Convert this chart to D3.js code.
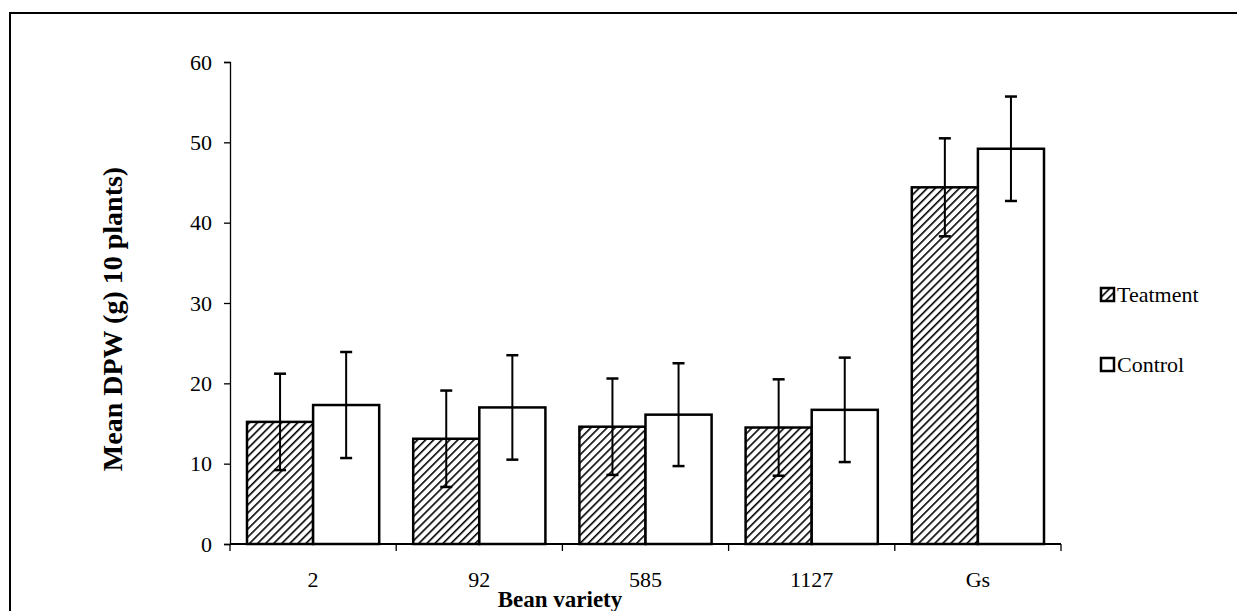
<!DOCTYPE html>
<html>
<head>
<meta charset="utf-8">
<script src="https://cdn.jsdelivr.net/npm/d3@7"></script>
<style>
  body { margin: 0; background: #fff; }
  svg text { font-family: "Liberation Serif", "Times New Roman", serif; fill: #000; }
</style>
</head>
<body>
<svg id="viz_area" width="1237" height="611"></svg>
<script>
// data
const varieties = ["2", "92", "585", "1127", "Gs"];
const series = ["Teatment", "Control"];
const treatment = [15.2, 13.1, 14.6, 14.5, 44.4];
const control = [17.3, 17.0, 16.1, 16.7, 49.2];
const treatmentErr = [6.0, 6.0, 6.0, 6.0, 6.1];
const controlErr = [6.6, 6.5, 6.4, 6.5, 6.5];
const yTicks = [0, 10, 20, 30, 40, 50, 60];

const svg = d3.select("#viz_area");

// hatch pattern for treatment bars
const defs = svg.append("defs");
defs.append("pattern")
    .attr("id", "hatch")
    .attr("patternUnits", "userSpaceOnUse")
    .attr("width", 5.7)
    .attr("height", 10)
    .attr("patternTransform", "rotate(45)")
  .append("line")
    .attr("x1", 0).attr("y1", 0)
    .attr("x2", 0).attr("y2", 10)
    .attr("stroke", "#000")
    .attr("stroke-width", 3.2);

// outer frame
svg.append("rect")
    .attr("x", 10).attr("y", 13)
    .attr("width", 1240).attr("height", 620)
    .attr("fill", "none")
    .attr("stroke", "#000")
    .attr("stroke-width", 2);

const margin = {top: 62, left: 230},
      width = 831,
      height = 482;

const g = svg.append("g")
    .attr("transform", "translate(" + margin.left + "," + margin.top + ")");

const x = d3.scaleBand()
    .domain(varieties)
    .range([0, width])
    .paddingInner(0)
    .paddingOuter(0);

const inner = d3.scaleBand()
    .domain(series)
    .range([17, x.bandwidth() - 17]);

const y = d3.scaleLinear()
    .domain([0, 60])
    .range([height, 0]);

// y axis
const yAxis = g.append("g")
    .call(d3.axisLeft(y).tickValues(yTicks).tickSize(6).tickPadding(12));
yAxis.select(".domain").attr("stroke-width", 1.3);
yAxis.selectAll(".tick line").attr("stroke-width", 1.3);
yAxis.selectAll("text")
    .style("font-size", "22px")
    .style("font-family", "Liberation Serif");

// x axis: ticks at band boundaries
const xAxis = g.append("g")
    .attr("transform", "translate(0," + height + ")");
xAxis.append("line")
    .attr("x1", 0).attr("x2", width)
    .attr("stroke", "#000").attr("stroke-width", 2);
xAxis.selectAll(".bound")
    .data(varieties.concat(["end"]))
    .enter().append("line")
    .attr("x1", (d, i) => i * x.bandwidth())
    .attr("x2", (d, i) => i * x.bandwidth())
    .attr("y1", 0).attr("y2", 7)
    .attr("stroke", "#000").attr("stroke-width", 1.3);
xAxis.selectAll(".lbl")
    .data(varieties)
    .enter().append("text")
    .attr("x", d => x(d) + x.bandwidth() / 2)
    .attr("y", 43)
    .attr("text-anchor", "middle")
    .style("font-size", "22px")
    .text(d => d);

// bars
const rows = varieties.map((v, i) => [
    {v: v, s: "Teatment", val: treatment[i], err: treatmentErr[i]},
    {v: v, s: "Control", val: control[i], err: controlErr[i]}
]).flat();

g.selectAll(".bar")
    .data(rows)
    .enter().append("rect")
    .attr("x", d => x(d.v) + inner(d.s))
    .attr("y", d => y(d.val))
    .attr("width", inner.bandwidth())
    .attr("height", d => height - y(d.val))
    .attr("fill", d => d.s === "Teatment" ? "url(#hatch)" : "#fff")
    .attr("stroke", "#000")
    .attr("stroke-width", 2.5);

// error bars
const eb = g.selectAll(".err")
    .data(rows)
    .enter().append("g")
    .attr("transform", d => "translate(" + (x(d.v) + inner(d.s) + inner.bandwidth() / 2) + ",0)");
eb.append("line")
    .attr("y1", d => y(d.val + d.err))
    .attr("y2", d => y(d.val - d.err))
    .attr("stroke", "#000").attr("stroke-width", 2);
eb.append("line")
    .attr("x1", -6).attr("x2", 6)
    .attr("y1", d => y(d.val + d.err)).attr("y2", d => y(d.val + d.err))
    .attr("stroke", "#000").attr("stroke-width", 2.5);
eb.append("line")
    .attr("x1", -6).attr("x2", 6)
    .attr("y1", d => y(d.val - d.err)).attr("y2", d => y(d.val - d.err))
    .attr("stroke", "#000").attr("stroke-width", 2.5);

// axis titles
svg.append("text")
    .attr("x", 560).attr("y", 607)
    .attr("text-anchor", "middle")
    .style("font-size", "23px")
    .style("font-weight", "bold")
    .text("Bean variety");

svg.append("text")
    .attr("transform", "translate(122,319) rotate(-90)")
    .attr("text-anchor", "middle")
    .style("font-size", "28px")
    .style("font-weight", "bold")
    .text("Mean DPW (g) 10 plants)");

// legend
const legend = svg.selectAll(".legend")
    .data(series)
    .enter().append("g")
    .attr("transform", (d, i) => "translate(1101," + (288 + i * 70) + ")");
legend.append("rect")
    .attr("width", 13).attr("height", 13)
    .attr("fill", d => d === "Teatment" ? "url(#hatch)" : "#fff")
    .attr("stroke", "#000").attr("stroke-width", 2.5);
legend.append("text")
    .attr("x", 16).attr("y", 14)
    .style("font-size", "22px")
    .text(d => d);
</script>
</body>
</html>
